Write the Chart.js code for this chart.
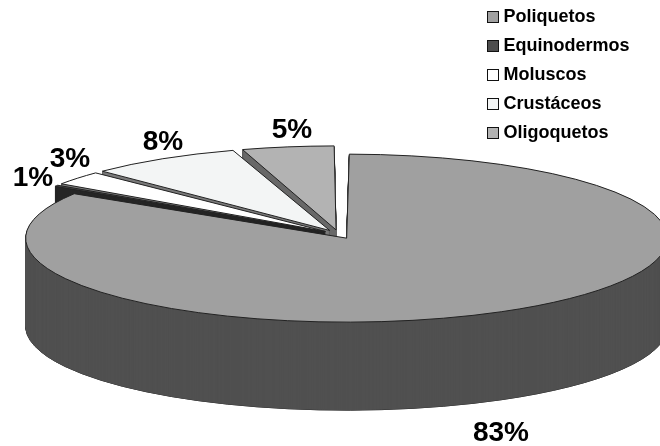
<!DOCTYPE html>
<html>
<head>
<meta charset="utf-8">
<style>
  html, body { margin: 0; background: #fff; }
  canvas { display: block; }
</style>
<script src="https://cdn.jsdelivr.net/npm/chart.js@4"></script>
</head>
<body>
<canvas id="chart" width="660" height="446"></canvas>
<script>
const categories = ['Poliquetos', 'Equinodermos', 'Moluscos', 'Crustáceos', 'Oligoquetos'];
// slice sizes as measured from the angles in the picture
const shares = [84, 0.5, 2.9, 7.8, 4.8];
const percentLabels = ['83%', '1%', '3%', '8%', '5%'];

const topColors = ['#a0a0a0', '#4d4d4d', '#ffffff', '#f3f5f5', '#b3b3b3'];
const wallColors = ['#505050', '#262626', '#808080', '#7a7a7a', '#686868'];
const labelSpots = [[501, 433], [33, 178], [70, 159], [163, 142], [292, 130]];

const centerX = 338.6;
const centerY = 234.3;
const radiusX = 321;
const radiusY = 84;
const depth = 88;

function drawSlice(ctx, arc, shift, options) {
    const saved = arc.options;
    // chart.js grows the radius of an offset arc by a factor that depends on its sweep
    const offset = saved.offset / 4;
    const grow = 1 - Math.sin(Math.min(Math.PI, arc.circumference));
    const radius = arc.outerRadius + offset * grow;
    arc.options = Object.assign(Object.create(saved), options);
    ctx.save();
    ctx.translate(centerX, centerY + shift);
    ctx.scale(radiusX / radius, radiusY / radius);
    ctx.translate(-arc.x, -arc.y);
    arc.draw(ctx);
    ctx.restore();
    arc.options = saved;
}

const pie3d = {
    id: 'pie3d',
    beforeDatasetsDraw(chart) {
        const ctx = chart.ctx;
        const arcs = chart.getDatasetMeta(0).data;

        // keep the pen round while the path is squashed
        ctx.stroke = function () {
            this.save();
            this.setTransform(1, 0, 0, 1, 0, 0);
            CanvasRenderingContext2D.prototype.stroke.call(this);
            this.restore();
        };

        // back slices first, the big one last
        [4, 3, 2, 1, 0].forEach(i => {
            const arc = arcs[i];
            for (let d = depth; d > 0; d -= 1) {
                drawSlice(ctx, arc, d, { borderWidth: 1, borderColor: '#111' });
            }
            for (let d = depth; d > 0; d -= 1) {
                drawSlice(ctx, arc, d, { backgroundColor: wallColors[i], borderWidth: 0.6, borderColor: wallColors[i] });
            }
            drawSlice(ctx, arc, 0, { borderWidth: 1, borderColor: '#222' });
        });

        delete ctx.stroke;
        return false;
    },
    afterDraw(chart) {
        const ctx = chart.ctx;
        ctx.save();
        ctx.textBaseline = 'middle';
        ctx.textAlign = 'left';
        ctx.font = 'bold 18px "Liberation Sans"';
        categories.forEach((name, i) => {
            const y = 17 + i * 29;
            ctx.fillStyle = topColors[i];
            ctx.fillRect(487.5, y - 5.5, 11, 11);
            ctx.strokeStyle = '#111';
            ctx.lineWidth = 1;
            ctx.strokeRect(487.5, y - 5.5, 11, 11);
            ctx.fillStyle = '#000';
            ctx.fillText(name, 503.5, y + 0.5);
        });
        ctx.textAlign = 'center';
        ctx.font = 'bold 28px "Liberation Sans"';
        percentLabels.forEach((text, i) => {
            ctx.fillText(text, labelSpots[i][0], labelSpots[i][1]);
        });
        ctx.restore();
    }
};

new Chart(document.querySelector('#chart').getContext('2d'), {
    type: 'pie',
    data: {
        labels: categories,
        datasets: [{
            data: shares,
            backgroundColor: topColors,
            borderColor: '#222',
            borderWidth: 1,
            offset: 44
        }]
    },
    options: {
        responsive: false,
        animation: false,
        plugins: {
            legend: { display: false },
            tooltip: { enabled: false }
        }
    },
    plugins: [pie3d]
});
</script>
</body>
</html>
